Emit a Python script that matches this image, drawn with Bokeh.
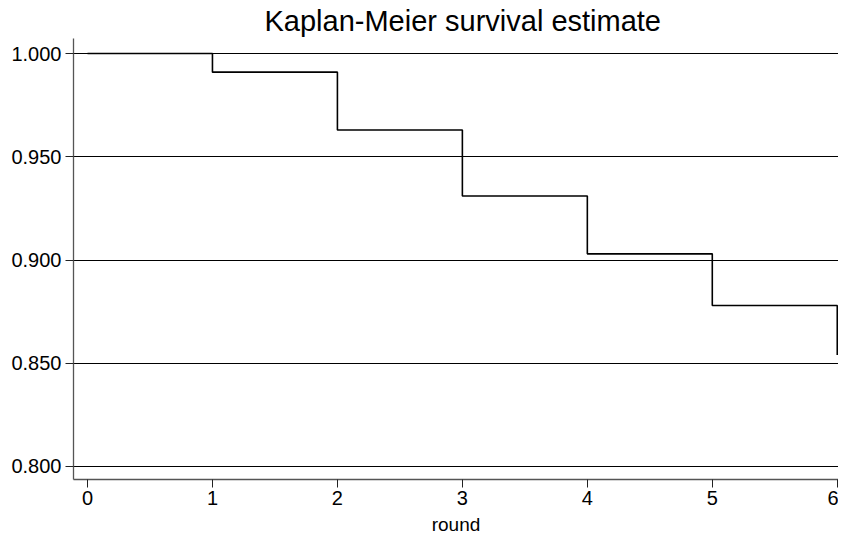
from bokeh.plotting import figure
from bokeh.embed import file_html
from bokeh.resources import INLINE
from bokeh.models import FixedTicker, CustomJSTickFormatter, Range1d

# Data
rounds = [0, 1, 2, 3, 4, 5, 6]
survival = [1.000, 0.991, 0.963, 0.931, 0.903, 0.878, 0.854]
y_ticks = [0.800, 0.850, 0.900, 0.950, 1.000]
x_ticks = [0, 1, 2, 3, 4, 5, 6]

FONT = "Liberation Sans"

p = figure(width=838, height=537, output_backend="svg", toolbar_location=None,
           x_range=Range1d(-0.112, 6.01), y_range=Range1d(0.7937, 1.0073),
           title="Kaplan-Meier survival estimate",
           min_border_left=73, min_border_right=0, min_border_top=0, min_border_bottom=0)
p.outline_line_color = None
p.background_fill_color = "white"
p.border_fill_color = "white"

p.title.text_font = FONT
p.title.text_font_size = "29px"
p.title.text_font_style = "normal"
p.title.align = "left"
p.title.offset = 191
p.title.text_color = "black"
p.title.standoff = 4

p.step(rounds, survival, mode="after", line_color="black", line_width=1.6)

# axes
p.xaxis.ticker = FixedTicker(ticks=x_ticks)
p.yaxis.ticker = FixedTicker(ticks=y_ticks)
p.yaxis.formatter = CustomJSTickFormatter(code="return tick.toFixed(3);")
p.xaxis.axis_label = "round"
for ax in (p.xaxis[0], p.yaxis[0]):
    ax.axis_line_color = "#555555"
    ax.axis_line_width = 1.3
    ax.major_tick_line_color = "#222222"
    ax.major_tick_in = 0
    ax.major_tick_out = 8
    ax.minor_tick_line_color = None
    ax.major_label_text_font = FONT
    ax.major_label_text_font_size = "20px"
    ax.major_label_text_color = "black"
    ax.axis_label_text_font = FONT
    ax.axis_label_text_font_size = "19px"
    ax.axis_label_text_font_style = "normal"
    ax.axis_label_text_color = "black"
p.yaxis.major_label_standoff = 4
p.xaxis.major_label_standoff = 3
p.xaxis.axis_label_standoff = 6

p.xgrid.grid_line_color = None
p.ygrid.grid_line_color = "black"
p.ygrid.grid_line_width = 1

open("out.html", "w").write(file_html(p, INLINE))
